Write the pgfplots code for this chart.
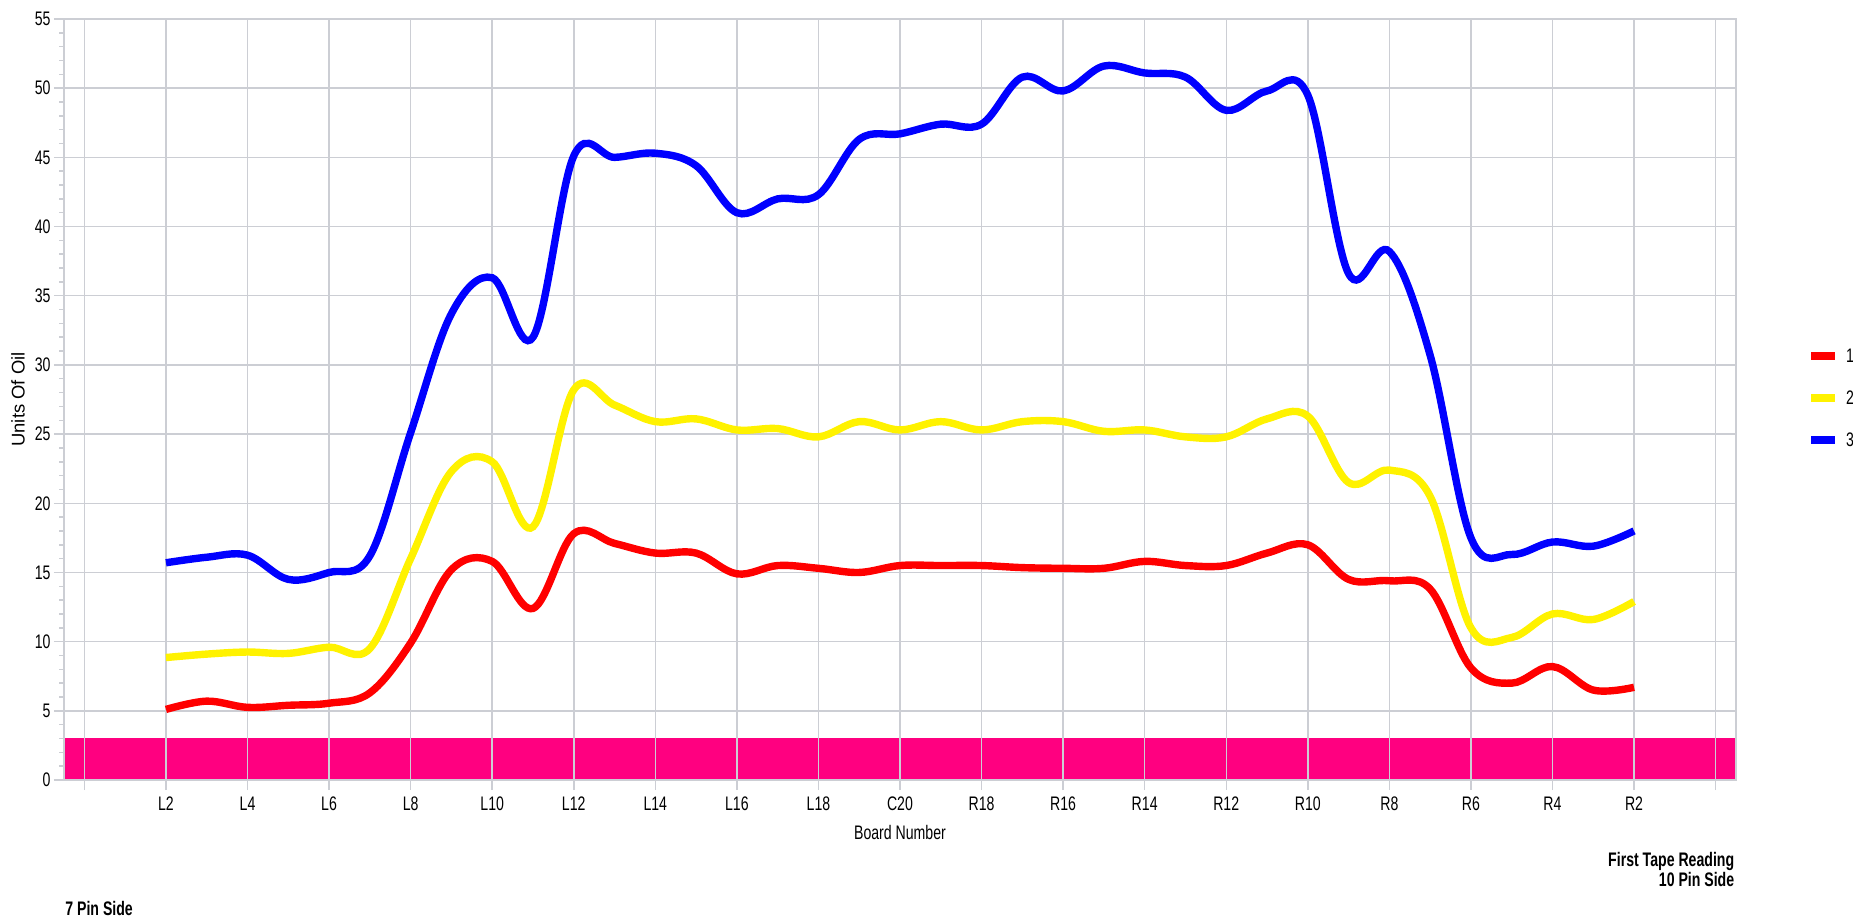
\documentclass[border=0pt]{standalone}
\usepackage{fontspec}
\setmainfont{Liberation Sans}[FakeStretch=0.72]
\newfontfamily\plainfont{Liberation Sans}
\usepackage{pgfplots}
\pgfplotsset{compat=1.18}
\usepackage{pgfplotstable}
\definecolor{gridgray}{RGB}{204,206,212}
\definecolor{bandpink}{RGB}{255,0,128}
\newcommand\lab{\fontsize{9.8pt}{11pt}\selectfont}

\pgfplotstableread{
i  red   yellow blue
0  5.1   8.85   15.7
1  5.7   9.1    16.1
2  5.25  9.25   16.25
3  5.4   9.15   14.5
4  5.55  9.6    15.0
5  6.3   9.5    16.2
6  9.9   16.0   25.1
7  15.2  22.3   33.7
8  15.8  23.0   36.3
9  12.4  18.3   32.0
10 17.8  28.2   45.1
11 17.1  27.1   45.0
12 16.4  25.9   45.3
13 16.4  26.1   44.4
14 14.9  25.3   41.0
15 15.5  25.4   42.0
16 15.3  24.8   42.3
17 15.0  25.9   46.3
18 15.5  25.3   46.7
19 15.5  25.9   47.4
20 15.5  25.3   47.4
21 15.35 25.9   50.8
22 15.3  25.9   49.8
23 15.3  25.2   51.6
24 15.8  25.3   51.1
25 15.5  24.8   50.8
26 15.5  24.8   48.4
27 16.4  26.1   49.8
28 17.0  26.3   49.5
29 14.5  21.5   36.6
30 14.4  22.4   38.2
31 13.8  20.5   30.7
32 8.1   11.0   17.5
33 7.0   10.3   16.3
34 8.2   12.0   17.2
35 6.5   11.6   16.9
36 6.7   12.9   18.0
}\oildata

\begin{document}
\begin{tikzpicture}
\begin{axis}[
  set layers,
  at={(0pt,0pt)}, anchor=south west,
  scale only axis, width=836pt, height=380.5pt,
  xmin=-2.5, xmax=38.5, ymin=0, ymax=55,
  xtick={-2,0,...,38},
  xticklabels={,L2,L4,L6,L8,L10,L12,L14,L16,L18,C20,R18,R16,R14,R12,R10,R8,R6,R4,R2,},
  ytick={0,5,...,55},
  minor y tick num=4,
  minor x tick num=0,
  tick align=outside,
  tick pos=left,
  major tick length=5pt, minor tick length=2.3pt,
  tick style={gridgray, line width=0.75pt},
  grid=major,
  major grid style={gridgray, line width=0.75pt},
  axis line style={gridgray, line width=0.75pt},
  /pgf/number format/assume math mode=true,
  tick label style={font=\lab},
  yticklabel style={inner sep=1.5pt},
  xlabel={Board Number},
  xlabel style={at={(axis description cs:0.5,-0.078)}, anchor=base, font=\lab, inner sep=0pt},
  ylabel={Units Of Oil},
  ylabel style={at={(axis description cs:-0.0275,0.5)}, anchor=center, font=\plainfont\fontsize{9.2pt}{11pt}\selectfont, inner sep=0pt},
  legend style={at={(axis description cs:1.0425,0.5664)}, anchor=north west, draw=none, fill=none,
    inner sep=0pt, outer sep=0pt, row sep=14pt, column sep=3.5pt,
    nodes={inner sep=0pt, text height=7pt, text depth=0pt, font=\lab}},
  legend cell align=left,
  legend image code/.code={\draw[#1, line width=4pt] (0pt,0pt) -- (12pt,0pt);},
]
\addplot[fill=bandpink, draw=none, forget plot, on layer=axis background] coordinates {(-2.5,3) (38.5,3)} \closedcycle;
\addplot[red, line width=3.7pt, smooth, tension=0.6] table[x=i, y=red] {\oildata};
\addlegendentry{1}
\addplot[yellow, line width=3.7pt, smooth, tension=0.6] table[x=i, y=yellow] {\oildata};
\addlegendentry{2}
\addplot[blue, line width=3.7pt, smooth, tension=0.6] table[x=i, y=blue] {\oildata};
\addlegendentry{3}
\end{axis}
\node[anchor=base east, inner sep=0pt, font=\lab\bfseries] at (835.3pt,-43pt) {First Tape Reading};
\node[anchor=base east, inner sep=0pt, font=\lab\bfseries] at (835.3pt,-53.3pt) {10 Pin Side};
\node[anchor=base west, inner sep=0pt, font=\lab\bfseries] at (0.5pt,-67.5pt) {7 Pin Side};
\pgfresetboundingbox
\useasboundingbox (-32pt,-69pt) rectangle (894.5pt,390pt);
\end{tikzpicture}
\end{document}
